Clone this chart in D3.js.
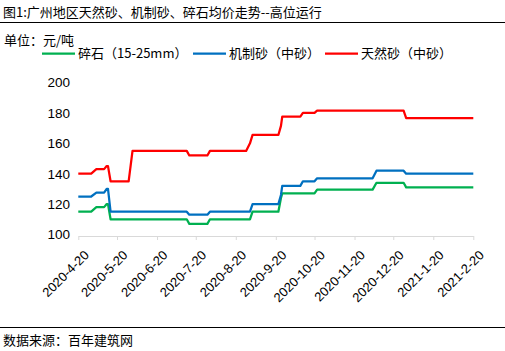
<!DOCTYPE html>
<html>
<head>
<meta charset="utf-8">
<script src="https://cdn.jsdelivr.net/npm/d3@7"></script>
<style>
  html, body { margin: 0; padding: 0; background: #fff; }
  svg { display: block; font-family: "Noto Sans CJK SC", "Noto Sans", sans-serif; }
</style>
</head>
<body>
<svg id="chart" width="505" height="351"></svg>
<script>
// breakpoints
const DATES = [
  '2020-04-20', '2020-04-30', '2020-05-04', '2020-05-10', '2020-05-12', '2020-05-13',
  '2020-05-15', '2020-05-29', '2020-06-01', '2020-07-13', '2020-07-15', '2020-07-29',
  '2020-07-31', '2020-08-28', '2020-08-31', '2020-09-02', '2020-09-22', '2020-09-24',
  '2020-09-25', '2020-10-09', '2020-10-11', '2020-10-20', '2020-10-22', '2020-12-04',
  '2020-12-07', '2020-12-28', '2020-12-30', '2021-02-20'
];
const GRAVEL = [
  115, 115, 118, 118, 120, 120,
  110, 110, 110, 110, 107, 107,
  110, 110, 110, 115, 115, 124,
  127, 127, 127, 127, 129.5, 129.5,
  134, 134, 131, 131
];
const MANUFACTURED = [
  125, 125, 127.5, 127.5, 130, 130,
  115, 115, 115, 115, 113, 113,
  115, 115, 115, 120, 120, 126,
  132, 132, 135, 135, 137, 137,
  142, 142, 140, 140
];
const NATURAL = [
  140, 140, 143, 143, 145, 145,
  135, 135, 155, 155, 152, 152,
  155, 155, 160, 165.5, 165.5, 171.5,
  177.5, 177.5, 180, 180, 181.5, 181.5,
  181.5, 181.5, 176.5, 176.5
];
const SERIES_NAMES = ['碎石（15-25mm）', '机制砂（中砂）', '天然砂（中砂）'];
const SERIES_COLORS = ['#00B050', '#0070C0', '#FF0000'];
const TICK_DATES = [
  '2020-04-20', '2020-05-20', '2020-06-20', '2020-07-20', '2020-08-20', '2020-09-20',
  '2020-10-20', '2020-11-20', '2020-12-20', '2021-01-20', '2021-02-20'
];
const Y_TICKS = [100, 120, 140, 160, 180, 200];

const TITLE = '图1:广州地区天然砂、机制砂、碎石均价走势--高位运行';
const UNIT = '单位：元/吨';
const SOURCE = '数据来源：百年建筑网';

const W = 505, H = 351;
const svg = d3.select('#chart');
const parse = d3.timeParse('%Y-%m-%d');
const fmtTick = d => `${d.getFullYear()}-${d.getMonth() + 1}-${d.getDate()}`;

const dates = DATES.map(parse);
const ticks = TICK_DATES.map(parse);
const seriesVals = [GRAVEL, MANUFACTURED, NATURAL];

const x = d3.scaleTime().domain([ticks[0], ticks[ticks.length - 1]]).range([78.3, 473.3]);
const y = d3.scaleLinear().domain([100, 200]).range([234.5, 82.5]);

// header / footer
svg.append('text').attr('x', 3).attr('y', 17).attr('font-size', '13px').attr('fill', '#000').text(TITLE);
svg.append('line').attr('x1', 0).attr('x2', W).attr('y1', 22.5).attr('y2', 22.5)
  .attr('stroke', '#000').attr('stroke-width', 1.2);
svg.append('text').attr('x', 4).attr('y', 45).attr('font-size', '13px').attr('fill', '#000').text(UNIT);
svg.append('line').attr('x1', 0).attr('x2', W).attr('y1', 327.5).attr('y2', 327.5)
  .attr('stroke', '#000').attr('stroke-width', 1.2);
svg.append('text').attr('x', 3).attr('y', 345).attr('font-size', '13px').attr('fill', '#000').text(SOURCE);

// legend
const legendX = [42, 193, 325];
SERIES_NAMES.forEach((name, i) => {
  const g = svg.append('g').attr('transform', `translate(${legendX[i]},58)`);
  g.append('line').attr('x1', 0).attr('x2', 33).attr('y1', -4.5).attr('y2', -4.5)
    .attr('stroke', SERIES_COLORS[i]).attr('stroke-width', 2.25);
  g.append('text').attr('x', 36).attr('y', 0).attr('font-size', '13px').attr('fill', '#000').text(name);
});

// y axis labels (no axis line)
svg.append('g')
  .attr('transform', `translate(70,0)`)
  .call(d3.axisLeft(y).tickValues(Y_TICKS).tickSize(0).tickPadding(0))
  .call(g => g.select('.domain').remove())
  .call(g => g.selectAll('text')
    .attr('font-family', '"Liberation Sans", Arial, sans-serif')
    .attr('font-size', '13.5px').attr('fill', '#000'));

// x axis
const xAxis = svg.append('g')
  .attr('transform', `translate(0,${y(100) + 1.5})`)
  .call(d3.axisBottom(x).tickValues(ticks).tickSize(4).tickSizeOuter(0).tickFormat(fmtTick));
xAxis.select('.domain').attr('stroke', '#d9d9d9');
xAxis.selectAll('.tick line').attr('stroke', '#d9d9d9');
xAxis.selectAll('text')
  .attr('font-family', '"Liberation Sans", Arial, sans-serif')
  .attr('font-size', '13px').attr('fill', '#000')
  .attr('text-anchor', 'end')
  .attr('dx', 0).attr('dy', 0)
  .attr('transform', 'translate(6,15) rotate(-45)');

// series
const line = d3.line().x(d => x(d.date)).y(d => y(d.v));
seriesVals.forEach((vals, i) => {
  const pts = dates.map((d, j) => ({ date: d, v: vals[j] }));
  svg.append('path').datum(pts)
    .attr('fill', 'none')
    .attr('stroke', SERIES_COLORS[i])
    .attr('stroke-width', 2.25)
    .attr('stroke-linejoin', 'round')
    .attr('d', line);
});
</script>
</body>
</html>
